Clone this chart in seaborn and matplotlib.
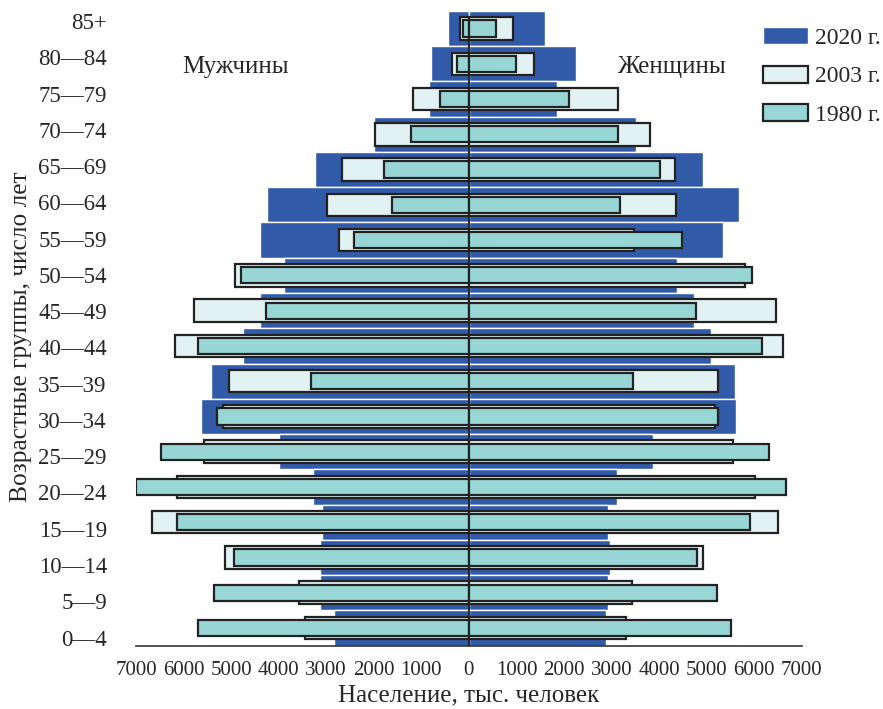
import numpy as np
import pandas as pd
import matplotlib
matplotlib.use("Agg")
import matplotlib.pyplot as plt
from matplotlib.patches import Patch
import seaborn as sns

# age groups, top to bottom
ages = ["85+", "80—84", "75—79", "70—74", "65—69", "60—64", "55—59", "50—54",
        "45—49", "40—44", "35—39", "30—34", "25—29", "20—24", "15—19",
        "10—14", "5—9", "0—4"]

# population, thousands
men_2020 = [440, 800, 840, 2000, 3240, 4250, 4400, 3890, 4400, 4740, 5420, 5640,
            3990, 3280, 3090, 3120, 3120, 2840]
women_2020 = [1600, 2250, 1850, 3510, 4930, 5690, 5340, 4370, 4740, 5090, 5590, 5620,
              3880, 3120, 2930, 2970, 2930, 2880]
men_2003 = [190, 350, 1170, 1980, 2670, 2980, 2730, 4920, 5790, 6190, 5050, 5160,
            5580, 6130, 6670, 5130, 3580, 3450]
women_2003 = [920, 1370, 3140, 3800, 4340, 4360, 3480, 5810, 6450, 6610, 5240, 5180,
              5550, 6010, 6490, 4930, 3430, 3300]
men_1980 = [130, 260, 610, 1210, 1790, 1610, 2420, 4800, 4260, 5700, 3330, 5290,
            6480, 7010, 6130, 4940, 5350, 5700]
women_1980 = [580, 990, 2110, 3140, 4020, 3180, 4480, 5950, 4770, 6170, 3460, 5240,
              6320, 6670, 5920, 4800, 5210, 5520]

years = ["2020 г.", "2003 г.", "1980 г."]
colors = {"2020 г.": "#315BA8", "2003 г.": "#E2F2F2", "1980 г.": "#98D6D6"}

sns.set_style("white")
plt.rcParams["font.family"] = ["Liberation Serif", "DejaVu Serif"]

fig = plt.figure(figsize=(8.83, 7.09), dpi=100)
ax = fig.add_axes([0.154, 0.0894, 0.754, 0.8952])

series = [
    ("2020 г.", men_2020, women_2020, 1.0, "white", 1.0),
    ("2003 г.", men_2003, women_2003, 0.64, "#222222", 1.6),
    ("1980 г.", men_1980, women_1980, 0.46, "#222222", 1.6),
]
for year, men, women, w, ec, lw in series:
    for vals in (-np.array(men), np.array(women)):
        sns.barplot(x=vals, y=ages, order=ages, orient="h", width=w,
                    color=colors[year], saturation=1, edgecolor=ec,
                    linewidth=lw, errorbar=None, ax=ax)

ax.vlines(0, -0.33, 17.5, color="#222222", lw=1.4, zorder=5)

ax.set_xlim(-7000, 7000)
ax.set_ylim(17.5, -0.5)
xt = np.arange(-7000, 7001, 1000)
ax.set_xticks(xt)
ax.set_xticklabels([str(abs(v)) for v in xt], fontsize=15)
ax.tick_params(axis="x", direction="in", length=4, width=1, color="#333333", pad=11)

# labels in the original are spaced a bit wider than the bars
ax.set_yticks(np.linspace(-0.21, 17.27, len(ages)))
ax.set_yticklabels(ages, fontsize=16.5)
ax.tick_params(axis="y", length=0, pad=21)

for s in ["top", "right", "left"]:
    ax.spines[s].set_visible(False)
ax.spines["bottom"].set_color("#333333")
ax.spines["bottom"].set_linewidth(1.2)

ax.set_xlabel("Население, тыс. человек", fontsize=18, labelpad=3)
ax.set_ylabel("Возрастные группы, число лет", fontsize=18.3)
ax.yaxis.set_label_coords(-0.156, 0.486)

ax.text(-4900, 1.1, "Мужчины", fontsize=18, ha="center", va="center")
ax.text(4250, 1.1, "Женщины", fontsize=18, ha="center", va="center")

handles = [
    Patch(facecolor=colors["2020 г."], edgecolor="white"),
    Patch(facecolor=colors["2003 г."], edgecolor="#222222", linewidth=1.6),
    Patch(facecolor=colors["1980 г."], edgecolor="#222222", linewidth=1.6),
]
fig.legend(handles, years, loc="upper left", bbox_to_anchor=(0.853, 0.975),
           frameon=False, fontsize=17, handlelength=1.9, handleheight=0.75,
           labelspacing=0.7, handletextpad=0.3, borderaxespad=0)

fig.savefig("out.png", dpi=100)
